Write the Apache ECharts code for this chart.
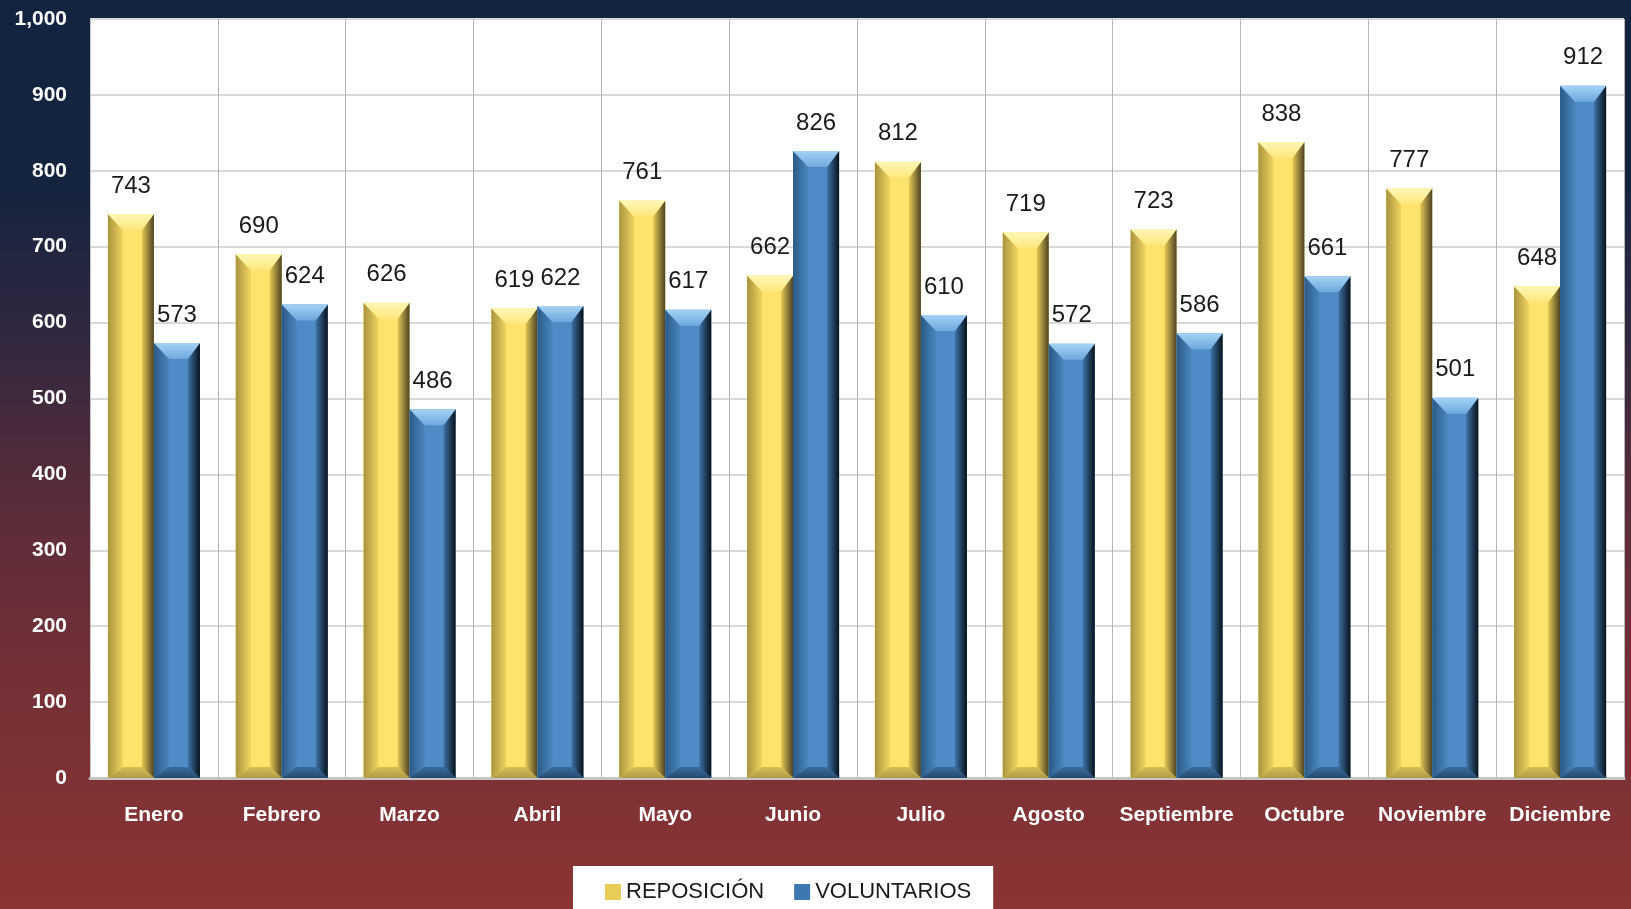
<!DOCTYPE html>
<html>
<head>
<meta charset="utf-8">
<script src="https://cdn.jsdelivr.net/npm/echarts@6/dist/echarts.min.js"></script>
<style>
    html, body { margin: 0; padding: 0; }
    #chart {
        width: 1631px; height: 909px;
        background: linear-gradient(to bottom, #12243f 0%, #14243f 20%, #33283f 38%, #5a2c3a 55%, #753036 75%, #8b3434 100%);
    }
</style>
</head>
<body>
<div id="chart"></div>
<script>
var meses = ['Enero', 'Febrero', 'Marzo', 'Abril', 'Mayo', 'Junio', 'Julio', 'Agosto', 'Septiembre', 'Octubre', 'Noviembre', 'Diciembre'];
var reposicion = [743, 690, 626, 619, 761, 662, 812, 719, 723, 838, 777, 648];
var voluntarios = [573, 624, 486, 622, 617, 826, 610, 572, 586, 661, 501, 912];

var FONT = '"Liberation Sans", Arial, sans-serif';

function grad(x, y, x2, y2, c1, c2) {
    return { type: 'linear', x: x, y: y, x2: x2, y2: y2, colorStops: [{ offset: 0, color: c1 }, { offset: 1, color: c2 }] };
}

// colores del bisel de cada serie
var amarillo = {
    face: '#fde36c', top: ['#fff6b8', '#fde77a'], left: ['#a89440', '#f2d45e'],
    right: ['#e6c854', '#4d4322'], bottom: ['#d9bd55', '#b09a45']
};
var azul = {
    face: '#4f8cc7', top: ['#a4d2f5', '#6ea8dd'], left: ['#2b5a86', '#4a86c0'],
    right: ['#3d73a8', '#08121c'], bottom: ['#3a6c9c', '#264a6e']
};

/* barra con bisel estilo Excel */
function bevelBar(col, side) {
    return function (params, api) {
        var idx = api.value(0), val = api.value(1);
        var top = api.coord([idx, val]);
        var base = api.coord([idx, 0]);
        var bw = api.size([1, 0])[0] * 0.36;
        var x0 = side < 0 ? top[0] - bw : top[0];
        var x1 = x0 + bw, y0 = top[1], y1 = base[1];
        var sl = 15, sr = 12, bt = 16, bb = 11;
        return {
            type: 'group',
            children: [
                { type: 'rect', shape: { x: x0, y: y0, width: bw, height: y1 - y0 }, style: { fill: col.face } },
                { type: 'polygon', shape: { points: [[x0, y0], [x0 + sl, y0 + bt], [x0 + sl, y1 - bb], [x0, y1]] },
                    style: { fill: grad(0, 0, 1, 0, col.left[0], col.left[1]) } },
                { type: 'polygon', shape: { points: [[x1, y0], [x1 - sr, y0 + bt], [x1 - sr, y1 - bb], [x1, y1]] },
                    style: { fill: grad(0, 0, 1, 0, col.right[0], col.right[1]) } },
                { type: 'polygon', shape: { points: [[x0, y0], [x1, y0], [x1 - sr, y0 + bt], [x0 + sl, y0 + bt]] },
                    style: { fill: grad(0, 0, 0, 1, col.top[0], col.top[1]) } },
                { type: 'polygon', shape: { points: [[x0, y1], [x1, y1], [x1 - sr, y1 - bb], [x0 + sl, y1 - bb]] },
                    style: { fill: grad(0, 0, 0, 1, col.bottom[0], col.bottom[1]) } },
                { type: 'text', x: (x0 + x1) / 2, y: y0 - 16,
                    style: { text: String(val), fill: '#1a1a1a', font: '24px ' + FONT, align: 'center', verticalAlign: 'bottom' } }
            ]
        };
    };
}

var myChart = echarts.init(document.getElementById('chart'));
var option = {
    animation: false,
    grid: { left: 90, top: 19, right: 7, bottom: 131, show: true, backgroundColor: '#ffffff', borderWidth: 0 },
    legend: {
        data: ['REPOSICIÓN', 'VOLUNTARIOS'],
        left: 573, top: 866,
        backgroundColor: '#ffffff',
        padding: [15, 22, 40, 32],
        itemGap: 30, itemWidth: 16, itemHeight: 16,
        icon: 'rect',
        textStyle: { fontSize: 22, color: '#1a1a1a', fontFamily: FONT }
    },
    xAxis: {
        type: 'category',
        data: meses,
        axisTick: { show: false },
        axisLine: { lineStyle: { color: '#c4c4c4', width: 3 } },
        splitLine: { show: true, lineStyle: { color: '#b5b5b5', width: 1 } },
        axisLabel: { color: '#ffffff', fontWeight: 'bold', fontSize: 21, fontFamily: FONT, margin: 27, interval: 0 }
    },
    yAxis: {
        type: 'value',
        min: 0, max: 1000, interval: 100,
        axisLine: { show: true, lineStyle: { color: '#c4c4c4', width: 1 } },
        axisTick: { show: false },
        splitLine: { lineStyle: { color: '#d9d9d9', width: 2 } },
        axisLabel: {
            color: '#ffffff', fontWeight: 'bold', fontSize: 21, fontFamily: FONT, margin: 23,
            formatter: function (v) { return v.toLocaleString('en-US'); }
        }
    },
    series: [
        {
            name: 'REPOSICIÓN', type: 'custom',
            itemStyle: { color: '#e8cc58' },
            renderItem: bevelBar(amarillo, -1),
            encode: { x: 0, y: 1 },
            data: reposicion.map(function (v, i) { return [i, v]; })
        },
        {
            name: 'VOLUNTARIOS', type: 'custom',
            itemStyle: { color: '#3e78b0' },
            renderItem: bevelBar(azul, 1),
            encode: { x: 0, y: 1 },
            data: voluntarios.map(function (v, i) { return [i, v]; })
        }
    ]
};
myChart.setOption(option);
</script>
</body>
</html>
